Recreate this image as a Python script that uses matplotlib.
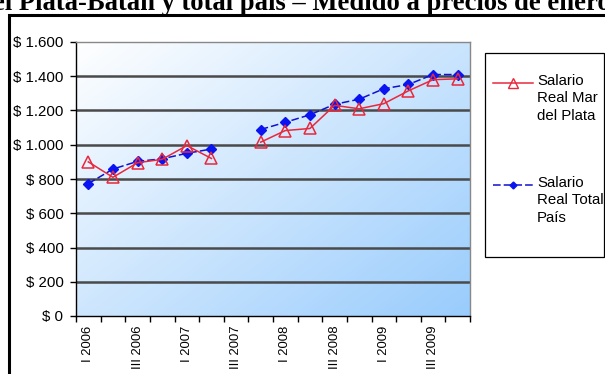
import numpy as np
import matplotlib
matplotlib.use("Agg")
import matplotlib.pyplot as plt
from matplotlib.lines import Line2D
from matplotlib.patches import Rectangle

# Quarterly real wages, 2006-2009 (NaN = no survey data)
quarters = ["I 2006", "II 2006", "III 2006", "IV 2006",
            "I 2007", "II 2007", "III 2007", "IV 2007",
            "I 2008", "II 2008", "III 2008", "IV 2008",
            "I 2009", "II 2009", "III 2009", "IV 2009"]
salario_mdp = [900, 810, 895, 915, 995, 920, np.nan,
               1015, 1083, 1095, 1230, 1210, 1240, 1315, 1380, 1385]
salario_pais = [773, 858, 903, 918, 950, 975, np.nan,
                1089, 1131, 1175, 1236, 1266, 1327, 1352, 1410, 1410]
y_ticks = [0, 200, 400, 600, 800, 1000, 1200, 1400, 1600]
y_labels = ["$ 0", "$ 200", "$ 400", "$ 600", "$ 800",
            "$ 1.000", "$ 1.200", "$ 1.400", "$ 1.600"]
legend_labels = ["Salario\nReal Mar\ndel Plata", "Salario\nReal Total\nPaís"]

W, H = 605, 374
fig = plt.figure(figsize=(W / 100, H / 100), dpi=100)
fig.patch.set_facecolor("white")


def fx(px):
    return px / W


def fy(py):
    return 1 - py / H


# Title (runs past the frame on both sides)
fig.text(fx(302), fy(9.5), "el Plata-Batán y total país – Medido a precios de enero",
         ha="center", va="baseline", fontsize=19.2, fontweight="bold",
         family="Liberation Serif", color="black")

# Outer chart frame
fig.add_artist(Rectangle((fx(9), -0.05), 1.1, fy(15) + 0.05,
                         transform=fig.transFigure, fill=False,
                         edgecolor="black", linewidth=2.2, clip_on=False))

left, right, top, bottom = 76, 470, 42, 316
ax = fig.add_axes([fx(left), fy(bottom), fx(right - left), (bottom - top) / H])

# Gradient background: white top-left to light blue bottom-right
n = 200
gx, gy = np.meshgrid(np.linspace(0, 1, n), np.linspace(0, 1, n))
t = np.clip((gx * 0.6 + gy * 0.55) / 1.15, 0, 1)
c0 = np.array([1.0, 1.0, 1.0])
c1 = np.array([0.60, 0.80, 0.99])
img = c0[None, None, :] * (1 - t[..., None]) + c1[None, None, :] * t[..., None]
ax.imshow(img, extent=[0, 1, 0, 1], transform=ax.transAxes,
          aspect="auto", zorder=0, origin="upper")

x = np.arange(len(quarters))
ax.set_xlim(-0.5, len(quarters) - 0.5)
ax.set_ylim(0, 1600)

for v in y_ticks[1:-1]:
    ax.axhline(v, color="#4a4a4a", linewidth=1.8, zorder=1)

red, blue = "#e8283c", "#0a14f0"
ax.plot(x, salario_pais, color="#1010d0", linestyle=(0, (5, 2)),
        linewidth=1.1, marker="D", markersize=5.5,
        markerfacecolor=blue, markeredgecolor=blue, zorder=3)
ax.plot(x, salario_mdp, color=red, linewidth=1.1,
        marker="^", markersize=8, markerfacecolor="none",
        markeredgecolor=red, markeredgewidth=1.1, zorder=4)

ax.set_yticks(y_ticks)
ax.set_yticklabels(y_labels, family="Liberation Sans", size=10.8)
ax.set_xticks(np.arange(len(quarters) + 1) - 0.5)
ax.set_xticklabels([])
ax.set_xticks(x[::2], minor=True)
ax.set_xticklabels(quarters[::2], minor=True, rotation=90,
                   family="Liberation Sans", size=9.4)
ax.tick_params(axis="x", which="major", length=4, width=1, color="black")
ax.tick_params(axis="x", which="minor", length=0, pad=7)
ax.tick_params(axis="y", length=4, width=1, color="black", pad=5)

for s in ["top", "right"]:
    ax.spines[s].set_color("#888888")
    ax.spines[s].set_linewidth(1.0)
for s in ["left", "bottom"]:
    ax.spines[s].set_color("black")
    ax.spines[s].set_linewidth(1.0)

# Legend box, drawn by hand
fig.add_artist(Rectangle((fx(485), fy(257)), fx(604 - 485), (257 - 53) / H,
                         transform=fig.transFigure, facecolor="white",
                         edgecolor="black", linewidth=0.9))
legend_rows = [
    (83, dict(color=red, linewidth=1.1, marker="^", markersize=7,
              markerfacecolor="none", markeredgecolor=red)),
    (185, dict(color="#1010d0", linestyle=(0, (5, 2)), linewidth=1.1,
               marker="D", markersize=3.5, markerfacecolor=blue,
               markeredgecolor=blue)),
]
for (yrow, style), label in zip(legend_rows, legend_labels):
    line_style = {k: v for k, v in style.items()
                  if k in ("color", "linestyle", "linewidth")}
    marker_style = {k: v for k, v in style.items()
                    if k not in ("color", "linestyle", "linewidth")}
    fig.add_artist(Line2D([fx(493), fx(533)], [fy(yrow), fy(yrow)],
                          transform=fig.transFigure, **line_style))
    fig.add_artist(Line2D([fx(513)], [fy(yrow)], transform=fig.transFigure,
                          linestyle="none", **marker_style))
    fig.text(fx(537), fy(yrow - 9), label, ha="left", va="top",
             linespacing=1.3, family="Liberation Sans", size=10.8)

fig.savefig("out.png", dpi=100)
